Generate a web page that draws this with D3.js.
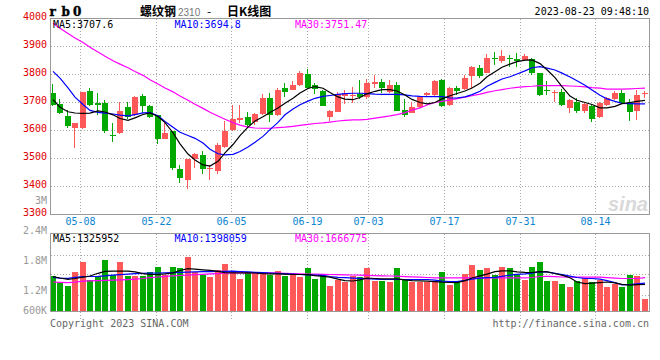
<!DOCTYPE html>
<html><head><meta charset="utf-8">
<script src="https://cdn.jsdelivr.net/npm/d3@7/dist/d3.min.js"></script>
<style>body{margin:0;background:#fff}svg{display:block}</style>
</head><body>
<svg id="c" width="660" height="360"></svg>
<script>
// ---------- data ----------
const dates = ["04-27","04-28","05-04","05-05","05-08","05-09","05-10","05-11","05-12","05-15",
"05-16","05-17","05-18","05-19","05-22","05-23","05-24","05-25","05-26","05-29",
"05-30","05-31","06-01","06-02","06-05","06-06","06-07","06-08","06-09","06-12",
"06-13","06-14","06-15","06-16","06-19","06-20","06-21","06-26","06-27","06-28",
"06-29","06-30","07-03","07-04","07-05","07-06","07-07","07-10","07-11","07-12",
"07-13","07-14","07-17","07-18","07-19","07-20","07-21","07-24","07-25","07-26",
"07-27","07-28","07-31","08-01","08-02","08-03","08-04","08-07","08-08","08-09",
"08-10","08-11","08-14","08-15","08-16","08-17","08-18","08-21","08-22","08-23"];
const open = [3733,3695,3652,3610,3608,3742,3697,3697,3583,3590,
3684,3655,3723,3688,3655,3570,3598,3462,3423,3498,
3512,3462,3456,3540,3602,3637,3647,3629,3659,3717,
3655,3753,3745,3762,3802,3762,3741,3647,3667,3723,
3725,3730,3721,3766,3772,3739,3762,3673,3664,3683,
3727,3727,3780,3691,3753,3748,3796,3822,3806,3858,
3849,3859,3854,3852,3855,3804,3746,3735,3739,3679,
3703,3670,3689,3647,3691,3712,3733,3703,3670,3731];
const high = [3765,3711,3673,3628,3738,3751,3735,3709,3626,3703,
3701,3723,3730,3690,3656,3626,3600,3477,3500,3520,
3528,3477,3556,3635,3691,3691,3665,3661,3729,3733,
3751,3769,3778,3814,3819,3769,3745,3675,3739,3745,
3754,3780,3783,3798,3783,3780,3772,3712,3703,3721,
3737,3780,3783,3755,3760,3798,3830,3834,3873,3879,
3888,3870,3876,3872,3858,3806,3778,3745,3750,3711,
3716,3698,3695,3702,3720,3740,3745,3712,3743,3742];
const low = [3688,3658,3608,3539,3605,3688,3655,3592,3560,3588,
3640,3653,3664,3644,3552,3568,3460,3414,3390,3465,
3446,3423,3445,3538,3598,3626,3608,3620,3657,3631,
3653,3721,3743,3760,3750,3729,3687,3634,3665,3694,
3699,3712,3712,3753,3733,3735,3669,3649,3662,3681,
3725,3725,3683,3689,3728,3746,3753,3786,3804,3834,
3840,3828,3828,3850,3800,3722,3727,3703,3688,3664,
3664,3664,3630,3645,3688,3710,3694,3635,3637,3715];
const close = [3691,3661,3617,3628,3736,3691,3690,3598,3580,3670,
3649,3721,3689,3647,3570,3592,3465,3431,3499,3516,
3462,3467,3548,3599,3640,3646,3620,3659,3717,3655,
3745,3739,3762,3804,3753,3747,3689,3671,3730,3733,
3727,3721,3771,3774,3751,3762,3671,3655,3685,3719,
3733,3777,3689,3753,3741,3789,3828,3796,3860,3855,
3867,3856,3849,3866,3804,3727,3744,3737,3691,3709,
3670,3695,3641,3699,3717,3733,3697,3667,3727,3733];
const ma5 = [3710,3683,3667,3662.5,3661,3662,3670,3666,3656,3643,
3636,3645,3657,3663,3650,3628,3592,3552,3516,3495,
3477,3473,3490,3520,3550,3582,3612,3634,3649,3664,
3680,3697,3715,3734,3750,3757,3751,3736,3720,3712,
3710,3718,3731,3740,3746,3746,3741,3727,3711,3700,
3695,3700,3713,3724,3732,3741,3752,3769,3792,3810,
3826,3837,3846,3851,3852,3839,3817,3789,3757,3723,
3708,3700,3693,3681,3681,3686,3696,3700,3704,3707.6];
const ma10 = [3811,3787,3752,3719,3693,3672,3665,3662,3659,3655,
3652,3657,3663,3664,3653,3632,3612,3594,3582,3572,
3555,3533,3517,3513,3515,3525,3541,3558,3579,3603,
3629,3656,3677,3692,3705,3715,3722,3725,3729,3732,
3733,3733,3732,3730,3729,3729,3729,3727,3724,3722,
3721,3721,3721,3716,3716,3720,3728,3740,3758,3772,
3784,3792,3802,3813,3824,3828,3823,3816,3805,3791,
3778,3762,3745,3726,3713,3704,3697,3696,3695,3694.8];
const ma30 = [3983,3965,3946,3930,3914,3897,3880,3865,3849,3837,
3824,3811,3797,3781,3766,3752,3738,3723,3708,3694,
3679,3665,3652,3640,3628,3619,3612,3609,3608,3608,
3610,3612,3615,3618,3622,3625,3627,3630,3634,3636,
3638,3638,3640,3644,3648,3652,3657,3664,3673,3681,
3691,3700,3704,3709,3714,3719,3724,3730,3736,3742,
3746,3751,3754,3757,3758,3760,3760,3760,3760,3759,
3758,3756,3753,3751,3748,3748,3748,3749,3750,3751.47];
// volume in millions of lots
const volume = [1.74,1.46,1.275,1.975,2.475,1.575,1.775,2.575,1.825,2.475,
1.74,1.775,1.74,1.975,2.225,1.825,2.225,2.175,2.725,1.94,
1.825,1.69,2.075,2.375,2.025,1.625,1.94,1.975,1.975,1.825,
2.025,1.74,1.86,1.69,2.14,1.625,1.825,1.275,1.575,1.44,
1.74,1.69,2.14,1.49,1.49,1.44,2.14,1.575,1.44,1.44,
1.44,1.44,1.94,1.325,1.44,1.875,2.325,2.075,2.14,1.825,
2.19,2.14,1.825,1.575,2.19,2.475,1.49,1.525,1.375,1.19,
1.49,1.66,1.44,1.575,1.225,1.375,1.19,1.79,1.74,0.625];
const vma5 = [1.715,1.65,1.585,1.625,1.69,1.75,1.885,1.98,1.99,1.99,
1.99,1.96,1.865,1.825,1.825,1.86,1.91,2.025,2.12,2.09,
2.06,2.03,1.985,1.92,1.91,1.91,1.91,1.9,1.87,1.86,
1.86,1.845,1.825,1.825,1.815,1.77,1.73,1.69,1.59,1.515,
1.5,1.555,1.65,1.625,1.61,1.61,1.605,1.555,1.52,1.505,
1.495,1.465,1.44,1.425,1.415,1.515,1.65,1.76,1.845,1.965,
2.01,2.01,1.955,1.93,1.925,1.97,1.955,1.875,1.79,1.66,
1.45,1.37,1.39,1.42,1.45,1.41,1.335,1.29,1.315,1.325952];
const vma10 = [1.675,1.645,1.635,1.685,1.715,1.725,1.735,1.76,1.79,1.815,
1.845,1.865,1.88,1.89,1.9,1.91,1.92,1.93,1.945,1.955,
1.965,1.97,1.98,1.985,1.99,1.975,1.955,1.935,1.92,1.9,
1.88,1.86,1.84,1.825,1.81,1.795,1.78,1.725,1.685,1.665,
1.645,1.63,1.615,1.595,1.575,1.575,1.575,1.575,1.575,1.575,
1.575,1.54,1.495,1.475,1.465,1.535,1.59,1.64,1.67,1.685,
1.735,1.79,1.83,1.855,1.895,1.965,1.955,1.885,1.815,1.74,
1.675,1.625,1.625,1.59,1.515,1.415,1.3,1.325,1.36,1.398059];
const vma30 = [1.45,1.435,1.42,1.44,1.495,1.51,1.52,1.535,1.545,1.555,
1.57,1.59,1.625,1.665,1.7,1.735,1.755,1.775,1.795,1.815,
1.835,1.855,1.87,1.89,1.91,1.91,1.91,1.91,1.91,1.905,
1.89,1.88,1.87,1.86,1.85,1.84,1.835,1.825,1.815,1.81,
1.8,1.795,1.785,1.77,1.76,1.75,1.74,1.72,1.705,1.69,
1.675,1.66,1.66,1.66,1.66,1.66,1.66,1.66,1.66,1.66,
1.66,1.66,1.66,1.66,1.675,1.725,1.73,1.715,1.70,1.69,
1.69,1.69,1.69,1.69,1.665,1.645,1.625,1.625,1.625,1.666775];
const priceTicks = [4000,3900,3800,3700,3600,3500,3400,3300];
const volTickValues = [3.0,2.4,1.8,1.2,0.6];
const volTickLabels = ["3M","2.4M","1.8M","1.2M","600K"];
const volGrid = [2.79,1.825,0.79];
const dateTicks = ["05-08","05-22","06-05","06-19","07-03","07-17","07-31","08-14"];
const priceLegend = [["MA5:3707.6","#000"],["MA10:3694.8","#0000ff"],["MA30:3751.47","#ff00ff"]];
const volLegend = [["MA5:1325952","#000"],["MA10:1398059","#0000ff"],["MA30:1666775","#ff00ff"]];

// ---------- drawing ----------
const svg = d3.select('#c');
const MONO = '"DejaVu Sans Mono", monospace';
const RED = '#ff5858', GREEN = '#00a800', GRID = '#aaa', BORDER = '#999';
const N = dates.length;
const xb = d3.scaleBand().domain(d3.range(N)).range([50, 649]);
const xg = d3.scaleLinear().domain([0, N - 1]).range([50, 649]);
const y = d3.scaleLinear().domain([3300, 4000]).range([214.5, 18.5]);
const yv = d3.scaleLinear().domain([0, 3.875]).range([311, 233.5]);
const yvl = d3.scaleLinear().domain([0.6, 2.4]).range([320.5, 230.5]);
const cx = i => Math.round(xb(i)) + 3;

svg.append('rect').attr('width', 660).attr('height', 360).attr('fill', '#fff');
const defs = svg.append('defs');
defs.append('clipPath').attr('id', 'cp').append('rect').attr('x', 50).attr('y', 19).attr('width', 599).attr('height', 195);
defs.append('clipPath').attr('id', 'cv').append('rect').attr('x', 50).attr('y', 234).attr('width', 599).attr('height', 77);

// grid
const g = svg.append('g').attr('stroke', GRID).attr('stroke-dasharray', '1,2').attr('fill', 'none');
priceTicks.slice(1, -1).forEach(v => g.append('line').attr('x1', 51).attr('x2', 649).attr('y1', y(v)).attr('y2', y(v)));
volGrid.forEach(v => { const yy = Math.floor(yv(v)) + 0.5; g.append('line').attr('x1', 51).attr('x2', 649).attr('y1', yy).attr('y2', yy); });
dateTicks.forEach(d => {
  const xx = Math.floor(xg(dates.indexOf(d))) + 0.5;
  g.append('line').attr('x1', xx).attr('x2', xx).attr('y1', 19).attr('y2', 214);
  g.append('line').attr('x1', xx).attr('x2', xx).attr('y1', 234).attr('y2', 320);
});

// candles
const cg = svg.append('g').attr('clip-path', 'url(#cp)').attr('shape-rendering', 'crispEdges');
d3.range(N).forEach(i => {
  const col = close[i] >= open[i] ? RED : GREEN;
  const L = Math.round(xb(i));
  cg.append('rect').attr('x', L + 2).attr('width', 1).attr('y', y(high[i])).attr('height', Math.max(1, y(low[i]) - y(high[i]))).attr('fill', col);
  const top = Math.min(y(open[i]), y(close[i]));
  cg.append('rect').attr('x', L).attr('width', 6).attr('y', top).attr('height', Math.max(1, Math.abs(y(open[i]) - y(close[i])))).attr('fill', col);
});

// volume bars
const vg = svg.append('g').attr('clip-path', 'url(#cv)').attr('shape-rendering', 'crispEdges');
d3.range(N).forEach(i => {
  const col = close[i] >= open[i] ? RED : GREEN;
  vg.append('rect').attr('x', Math.round(xb(i))).attr('width', 6).attr('y', yv(volume[i])).attr('height', yv(0) - yv(volume[i])).attr('fill', col);
});

// MA lines
const lineP = d3.line().x((d, i) => cx(i)).y(d => y(d));
const lineV = d3.line().x((d, i) => cx(i)).y(d => yv(d));
[[ma30, '#ff00ff'], [ma10, '#0000ff'], [ma5, '#000']].forEach(([a, c]) =>
  svg.append('path').attr('clip-path', 'url(#cp)').attr('d', lineP(a)).attr('fill', 'none').attr('stroke', c).attr('stroke-width', 1.2));
[[vma30, '#ff00ff'], [vma10, '#0000ff'], [vma5, '#000']].forEach(([a, c]) =>
  svg.append('path').attr('clip-path', 'url(#cv)').attr('d', lineV(a)).attr('fill', 'none').attr('stroke', c).attr('stroke-width', 1.2));

// borders
const b = svg.append('g').attr('fill', 'none').attr('stroke', BORDER).attr('shape-rendering', 'crispEdges');
b.append('rect').attr('x', 50.5).attr('y', 18.5).attr('width', 599).attr('height', 196);
b.append('rect').attr('x', 50.5).attr('y', 233.5).attr('width', 599).attr('height', 78);

// watermark
svg.append('text').attr('x', 648).attr('y', 211).attr('text-anchor', 'end')
  .attr('font-family', '"Liberation Sans", Arial, sans-serif').attr('font-style', 'italic').attr('font-weight', 'bold')
  .attr('font-size', 20).attr('fill', '#d9d9d9').text('sina');

// text
const t = (x, yy, s, col, anchor) => svg.append('text').attr('x', x).attr('y', yy).attr('text-anchor', anchor || 'start')
  .attr('font-family', MONO).attr('font-size', 10).attr('fill', col).text(s);
priceTicks.forEach(v => t(47, y(v) + 1.2, String(v), '#e00000', 'end'));
volTickValues.forEach((v, k) => t(47, Math.min(yvl(v), 310.7) + 3.6, volTickLabels[k], '#999', 'end'));
dateTicks.forEach(d => t(Math.floor(xg(dates.indexOf(d))) + 0.5, 225.3, d, '#0a84d0', 'middle'));
const lx = [53, 174.5, 295];
priceLegend.forEach(([s, c], k) => t(lx[k], 27.5, s, c));
volLegend.forEach(([s, c], k) => t(lx[k], 242.3, s, c));
t(50, 327, 'Copyright 2023 SINA.COM', '#666');
t(649, 327, 'http://finance.sina.com.cn', '#666', 'end');
t(649, 15, '2023-08-23 09:48:10', '#000', 'end');

const code = svg.append('text').attr('y', 15.5).attr('font-family', '"DejaVu Serif", serif')
  .attr('font-weight', 'bold').attr('font-size', 12).attr('fill', '#000').attr('stroke', '#000').attr('stroke-width', 0.4);
code.append('tspan').attr('x', 49.5).text('r');
code.append('tspan').attr('x', 61.5).text('b');
code.append('tspan').attr('x', 73).text('0');
const title = svg.append('text').attr('y', 15.5).attr('font-size', 12);
title.append('tspan').attr('x', 140).attr('font-family', '"Noto Sans CJK SC", sans-serif').attr('font-weight', 'bold').attr('fill', '#000').text('螺纹钢');
title.append('tspan').attr('x', 178).attr('font-family', '"Liberation Sans", Arial, sans-serif').attr('font-size', 10).attr('fill', '#777').text('2310');
title.append('tspan').attr('x', 207).attr('font-family', '"Noto Sans CJK SC", sans-serif').attr('fill', '#000').text('-');
title.append('tspan').attr('x', 227).attr('font-family', '"Noto Sans CJK SC", sans-serif').attr('font-weight', 'bold').attr('fill', '#000').text('日K线图');
</script>
</body></html>
